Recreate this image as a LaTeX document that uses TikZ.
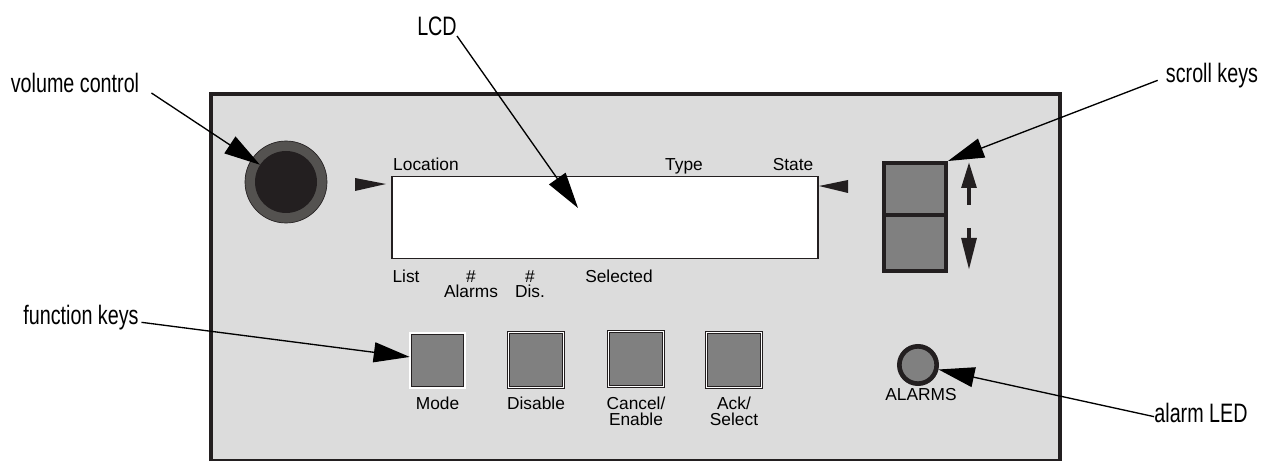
\documentclass[tikz,border=0pt]{standalone}
\usepackage{fontspec}
\setmainfont{Liberation Sans}
\newfontfamily\calloutfont[FakeStretch=0.74]{Liberation Sans}
\usetikzlibrary{arrows.meta}
\definecolor{panelgray}{HTML}{DCDCDC}
\definecolor{keygray}{HTML}{808080}
\definecolor{inkdark}{HTML}{231F20}
\definecolor{ringgray}{HTML}{545250}

\begin{document}
\begin{tikzpicture}[x=0.75pt,y=0.75pt]
    \tikzstyle{every node}+=[inner sep=0pt]
    \tikzstyle{calltext}=[font=\calloutfont\fontsize{20}{22}\selectfont, anchor=base]
    \tikzstyle{paneltext}=[font=\fontsize{13}{11.5}\selectfont, align=center]
    \tikzstyle{leader}=[black, line width=1pt, -{Triangle[length=27pt,width=15pt]}]
    \tikzstyle{fkey}=[draw=inkdark, line width=0.6pt, double=white, double distance=1.2pt, fill=keygray, minimum size=41pt]
    \tikzstyle{skey}=[draw=inkdark, line width=3pt, fill=keygray, minimum width=46.5pt]
    \useasboundingbox (0,0) rectangle (1264,-463);
    \fill [panelgray] (211,-94) rectangle (1060,-460);
    \draw [inkdark, line width=3pt] (211,-461) -- (211,-94) -- (1060,-94) -- (1060,-461);
    \draw [inkdark, line width=1.5pt] (211,-460) -- (1060,-460);
    \draw (286,-182) node [circle, draw=inkdark, line width=0.5pt, fill=ringgray, minimum size=61.5pt] (knob) {};
    \draw (286,-182) node [circle, fill=inkdark, minimum size=46.5pt] (knobcore) {};
    \draw (605,-217.5) node [draw=inkdark, line width=0.8pt, fill=white, minimum width=319.5pt, minimum height=62pt] (lcd) {};
    \fill [inkdark] (386,-184) -- (355,-178) -- (355,-191) -- cycle;
    \fill [inkdark] (819,-186) -- (848,-180) -- (848,-193) -- cycle;
    \draw (426,-171) node [paneltext, anchor=base] (location) {Location};
    \draw (684,-171) node [paneltext, anchor=base] (type) {Type};
    \draw (793,-171) node [paneltext, anchor=base] (state) {State};
    \draw (406,-270) node [paneltext, anchor=north] (list) {List};
    \draw (471,-270) node [paneltext, anchor=north] (alarmcount) {\#\\Alarms};
    \draw (530,-270) node [paneltext, anchor=north] (discount) {\#\\Dis.};
    \draw (619,-270) node [paneltext, anchor=north] (selected) {Selected};
    \draw (437.5,-360.5) node [fkey] (modekey) {};
    \draw (536,-360) node [fkey] (disablekey) {};
    \draw (636,-359) node [fkey] (cancelkey) {};
    \draw (734,-360) node [fkey] (ackkey) {};
    \draw (437.5,-397) node [paneltext, anchor=north] (mode) {Mode};
    \draw (536,-397) node [paneltext, anchor=north] (disable) {Disable};
    \draw (636,-397) node [paneltext, anchor=north] (cancel) {Cancel/\\Enable};
    \draw (734,-397) node [paneltext, anchor=north] (ack) {Ack/\\Select};
    \draw (915,-189) node [skey, minimum height=39pt] (upkey) {};
    \draw (915,-243) node [skey, minimum height=42pt] (downkey) {};
    \draw [inkdark, line width=3pt, -{Triangle[length=19.5pt,width=11pt]}] (969,-205) -- (969,-162);
    \draw [inkdark, line width=3pt, -{Triangle[length=24pt,width=11pt]}] (969,-228) -- (969,-270);
    \draw (918,-365) node [circle, draw=inkdark, line width=3.5pt, fill=keygray, minimum size=28pt] (led) {};
    \draw (921,-395) node [paneltext] (ledname) {ALARMS};
    \draw (75,-93) node [calltext] (volume) {volume control};
    \draw (437,-36) node [calltext] (lcdname) {LCD};
    \draw (1212,-83) node [calltext] (scroll) {scroll keys};
    \draw (81,-325) node [calltext] (fkeys) {function keys};
    \draw (1201,-422) node [calltext] (ledcall) {alarm LED};
    \coordinate (lcdtip) at (578,-208);
    \draw [leader] ([xshift=9pt]volume.base east) -- (knobcore);
    \draw [leader] (lcdname.base east) -- (lcdtip);
    \draw [leader] ([shift={(-6pt,2pt)}]scroll.base west) -- (upkey.north east);
    \draw [leader] ([shift={(2pt,2pt)}]fkeys.base east) -- (modekey);
    \draw [leader] ([yshift=4pt]ledcall.base west) -- (led);
    \end{tikzpicture}
\end{document}
